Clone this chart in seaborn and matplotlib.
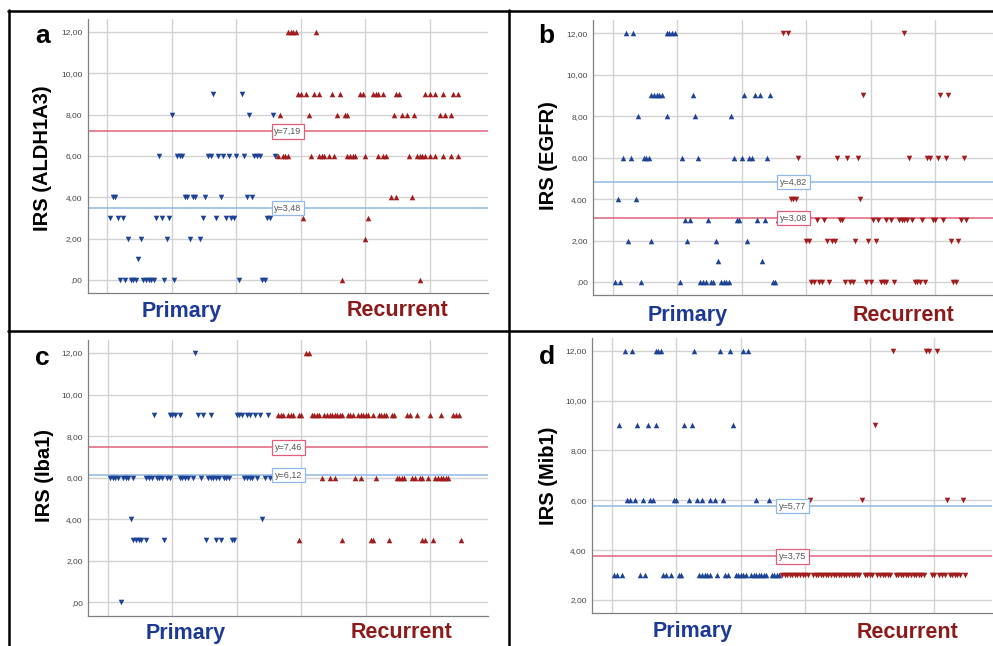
import matplotlib
matplotlib.use("Agg")
import matplotlib.pyplot as plt
from matplotlib.lines import Line2D
import seaborn as sns
import pandas as pd

sns.set_style("white")
plt.rcParams['font.family'] = ['Liberation Sans', 'DejaVu Sans']

W, H = 993, 646

# IRS score -> case numbers (case order as in the SPSS case plot)
A_PRIMARY = {
    9: [41, 52],
    8: [25, 55, 64],
    6: [20, 27, 28, 29, 39, 40, 43, 45, 47, 50, 53, 57, 58, 59, 65],
    4: [2, 3, 30, 31, 33, 34, 38, 44, 54, 56],
    3: [1, 4, 6, 19, 21, 24, 37, 42, 46, 48, 49, 62, 63],
    2: [8, 13, 23, 32, 36],
    1: [12],
    0: [5, 7, 9, 10, 11, 14, 15, 16, 17, 18, 22, 26, 51, 60, 61],
}
A_RECURRENT = {
    12: [70, 71, 72, 73, 81],
    9: [74, 75, 77, 80, 82, 87, 90, 98, 99, 103, 104, 105, 107, 112, 113,
        123, 125, 127, 130, 134, 136],
    8: [67, 78, 89, 92, 93, 111, 114, 116, 119, 129, 131, 133],
    6: [66, 68, 69, 70, 79, 82, 83, 84, 86, 88, 93, 94, 95, 96, 100, 105, 107,
        108, 117, 120, 121, 122, 123, 125, 127, 130, 133, 136],
    4: [110, 112, 118],
    3: [76, 101],
    2: [100],
    0: [91, 121],
}

B_PRIMARY = {
    12: [5, 8, 21, 22, 23, 24],
    9: [15, 16, 17, 18, 19, 31, 51, 55, 57, 61],
    8: [10, 21, 32, 46],
    6: [4, 7, 12, 13, 14, 27, 33, 47, 50, 53, 54, 60],
    4: [2, 9],
    3: [28, 30, 37, 48, 49, 56, 59, 64],
    2: [6, 15, 29, 40, 52],
    1: [41, 58],
    0: [1, 3, 11, 26, 34, 35, 36, 38, 39, 42, 43, 44, 45, 62, 63],
}
B_RECURRENT = {
    12: [66, 68, 113],
    9: [97, 127, 130],
    6: [72, 87, 91, 95, 115, 122, 123, 126, 129, 136],
    4: [69, 70, 71, 96],
    3: [79, 82, 88, 89, 101, 103, 106, 108, 111, 112, 113, 114, 116, 120, 124,
        125, 128, 135, 137],
    2: [75, 76, 83, 85, 86, 94, 99, 102, 131, 134],
    0: [77, 78, 80, 81, 84, 90, 92, 93, 98, 100, 104, 105, 106, 109, 117, 118,
        119, 121, 132, 133],
}

C_PRIMARY = {
    12: [34],
    9: [18, 24, 25, 26, 28, 35, 37, 40, 50, 51, 52, 54, 55, 57, 59, 62],
    6: [1, 2, 3, 4, 6, 7, 8, 10, 15, 16, 17, 19, 20, 21, 23, 24, 28, 29, 30,
        31, 33, 36, 39, 40, 41, 42, 43, 45, 46, 47, 53, 54, 55, 56, 58, 61, 63],
    4: [9, 60],
    3: [10, 11, 12, 13, 15, 22, 38, 42, 44, 48, 49],
    0: [5],
}
C_RECURRENT = {
    12: [77, 78],
    9: [66, 67, 68, 70, 71, 72, 74, 75, 79, 80, 81, 82, 84, 85, 86, 87, 88, 89,
        90, 91, 93, 94, 95, 97, 98, 99, 100, 101, 103, 105, 106, 107, 108, 110,
        111, 116, 117, 120, 125, 129, 134, 135, 136],
    6: [83, 86, 88, 96, 98, 104, 112, 113, 114, 115, 118, 119, 121, 122, 124,
        127, 128, 129, 130, 131, 132],
    3: [74, 91, 102, 103, 109, 122, 123, 126, 137],
}

D_PRIMARY = {
    12: [5, 8, 17, 18, 19, 32, 42, 46, 51, 53],
    9: [3, 10, 14, 17, 28, 31, 47],
    6: [6, 7, 9, 12, 15, 16, 24, 25, 30, 33, 35, 38, 40, 43, 56, 61],
    3: [1, 2, 4, 11, 13, 20, 21, 23, 26, 27, 34, 35, 36, 37, 38, 41, 44, 45,
        48, 49, 50, 51, 52, 54, 55, 56, 57, 58, 59, 60, 62, 63, 64, 65],
}
D_RECURRENT = {
    12: [109, 122, 123, 126],
    9: [102],
    6: [77, 97, 130, 136],
    3: [66, 67, 68, 69, 70, 71, 72, 73, 74, 75, 76, 78, 79, 80, 81, 82, 83, 84,
        85, 86, 87, 88, 89, 90, 91, 92, 93, 94, 95, 96, 98, 99, 100, 101, 103,
        104, 105, 106, 107, 108, 110, 111, 112, 113, 114, 115, 116, 117, 118,
        119, 120, 121, 124, 125, 127, 128, 129, 131, 132, 133, 134, 135, 137],
}

# mean lines (blue = primary, red = recurrent)
MEANS_A = (3.48, 7.19)
MEANS_B = (4.82, 3.08)
MEANS_C = (6.12, 7.46)
MEANS_D = (5.77, 3.75)

YTICKS_ABC = [0, 2, 4, 6, 8, 10, 12]
YTICKS_D = [2, 4, 6, 8, 10, 12]

BLUE = "#1d4395"
RED = "#a11c1c"
TEXT_BLUE = "#1c3996"
TEXT_RED = "#8c1a1a"
LINE_BLUE = "#8fb9e6"
LINE_RED = "#e0607a"


def to_frame(levels):
    rows = [(c, v) for v, cases in levels.items() for c in cases]
    return pd.DataFrame(rows, columns=["case", "irs"])


def fig_box(left, top, right, bottom):
    return [left / W, 1 - bottom / H, (right - left) / W, (bottom - top) / H]


def fmt(v):
    s = f"{v:.2f}".replace(".", ",")
    return s[1:] if s.startswith("0") else s


def draw_panel(fig, box, primary, recurrent, pm, rm, means, ylim, yticks):
    ax = fig.add_axes(box)
    ax.set_xlim(-7.5, 147.5)
    ax.set_ylim(*ylim)

    for x in [0, 25, 50, 75, 100, 125]:
        ax.axvline(x, color="#d2d2d2", lw=1.0, zorder=0)
    for y in yticks:
        ax.axhline(y, color="#d2d2d2", lw=1.0, zorder=0)

    sns.scatterplot(data=to_frame(primary), x="case", y="irs", marker=pm,
                    color=BLUE, s=16, linewidth=0, ax=ax, zorder=3)
    sns.scatterplot(data=to_frame(recurrent), x="case", y="irs", marker=rm,
                    color=RED, s=16, linewidth=0, ax=ax, zorder=3)

    for m, col in zip(means, [LINE_BLUE, LINE_RED]):
        ax.axhline(m, color=col, lw=1.1, zorder=2)
        ax.text(70, m, "y=" + f"{m:.2f}".replace(".", ","), fontsize=6.5,
                color="#555555", ha="center", va="center", zorder=5,
                bbox=dict(boxstyle="square,pad=0.3", fc="white", ec=col, lw=0.9))

    ax.set_xticks([])
    ax.set_yticks(yticks)
    ax.set_yticklabels([fmt(v) for v in yticks], fontsize=6, color="#444444")
    ax.tick_params(axis="y", length=0, pad=4)
    ax.set_xlabel("")
    ax.set_ylabel("")
    for side in ["top", "right"]:
        ax.spines[side].set_visible(False)
    for side in ["left", "bottom"]:
        ax.spines[side].set_color("#808080")
        ax.spines[side].set_linewidth(0.9)
    return ax


def ftext(x, y, s, **kw):
    fig.text(x / W, 1 - y / H, s, ha="center", va="center", **kw)


fig = plt.figure(figsize=(W / 100, H / 100), dpi=100)

panels = [
    ("a", "IRS (ALDH1A3)", (88, 18.6, 488, 293.4), A_PRIMARY, A_RECURRENT, "v", "^",
     MEANS_A, (-0.65, 12.65), YTICKS_ABC, (42.7, 36), (43, 158), (182, 311), (397, 311)),
    ("b", "IRS (EGFR)", (593.3, 19.8, 993.3, 295.5), B_PRIMARY, B_RECURRENT, "^", "v",
     MEANS_B, (-0.65, 12.65), YTICKS_ABC, (546.7, 36), (548, 156), (688, 315), (903, 315)),
    ("c", "IRS (Iba1)", (88.3, 339.5, 488.3, 615.8), C_PRIMARY, C_RECURRENT, "v", "^",
     MEANS_C, (-0.65, 12.65), YTICKS_ABC, (42.7, 358), (45, 476), (186, 633), (401, 633)),
    ("d", "IRS (Mib1)", (592.3, 338.2, 992.3, 612.5), D_PRIMARY, D_RECURRENT, "^", "v",
     MEANS_D, (1.5, 12.5), YTICKS_D, (546.7, 357), (548, 476), (693, 632), (908, 632)),
]

for (letter, ylab, px, pri, rec, pm, rm, means, ylim, yt,
     lpos, ypos, ppos, rpos) in panels:
    draw_panel(fig, fig_box(*px), pri, rec, pm, rm, means, ylim, yt)
    ftext(*lpos, letter, fontsize=19, fontweight="bold", color="black")
    ftext(*ypos, ylab, fontsize=14.5, fontweight="bold", color="black", rotation=90)
    ftext(*ppos, "Primary", fontsize=15.5, fontweight="bold", color=TEXT_BLUE)
    ftext(*rpos, "Recurrent", fontsize=15.5, fontweight="bold", color=TEXT_RED)

# black panel frames
for (x0, y0, x1, y1) in [(8, 10.5, 993, 10.5), (8.5, 10, 8.5, 646),
                         (508.5, 10, 508.5, 646), (8, 331, 993, 331)]:
    fig.add_artist(Line2D([x0 / W, x1 / W], [1 - y0 / H, 1 - y1 / H],
                          color="black", lw=1.8))

fig.savefig("out.png", dpi=100)
